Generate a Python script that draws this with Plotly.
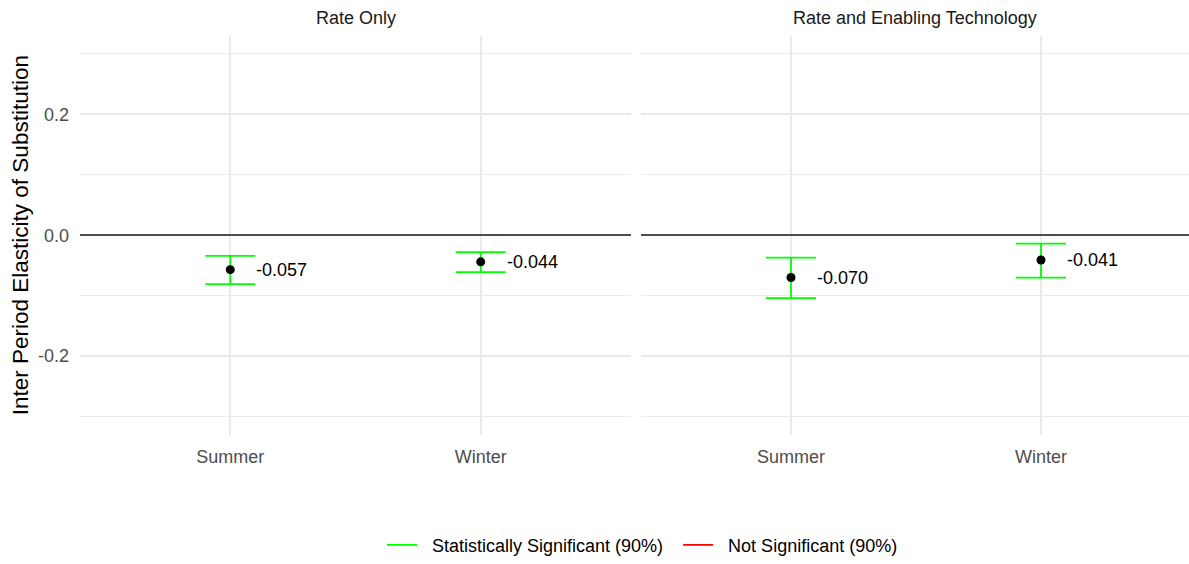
import plotly.graph_objects as go

# Seasonal elasticity estimates with 90% confidence bounds, one set per treatment group
seasons = ["Summer", "Winter"]
panels = ["Rate Only", "Rate and Enabling Technology"]

rate_only_est = [-0.057, -0.044]
rate_only_lo = [-0.081, -0.061]
rate_only_hi = [-0.034, -0.028]

rate_tech_est = [-0.070, -0.041]
rate_tech_lo = [-0.104, -0.070]
rate_tech_hi = [-0.037, -0.014]

y_ticks = [-0.2, 0.0, 0.2]
y_tick_labels = ["-0.2", "0.0", "0.2"]
y_minor = [-0.3, -0.1, 0.1, 0.3]

legend_labels = ["Statistically Significant (90%)", "Not Significant (90%)"]

W, H = 1189, 564
FONT = "Liberation Sans, Arial, sans-serif"
GREEN = "#00FF00"
RED = "#FF0000"
GRID = "#EBEBEB"
NBSP = "\u00a0"

pos = [1, 2]
fig = go.Figure()

groups = [
    (rate_only_est, rate_only_lo, rate_only_hi, "x", "y"),
    (rate_tech_est, rate_tech_lo, rate_tech_hi, "x2", "y2"),
]

for est, lo, hi, xa, ya in groups:
    fig.add_trace(go.Scatter(
        x=pos, y=est, mode="markers", xaxis=xa, yaxis=ya, showlegend=False,
        marker=dict(color="black", size=9),
        error_y=dict(
            type="data", symmetric=False,
            array=[h - e for h, e in zip(hi, est)],
            arrayminus=[e - l for e, l in zip(est, lo)],
            color=GREEN, thickness=1.8, width=25,
        ),
        hoverinfo="skip",
    ))
    for p, e in zip(pos, est):
        fig.add_annotation(
            x=p, y=e, xref=xa, yref=ya, text=f"{e:.3f}", showarrow=False,
            xanchor="left", yanchor="middle", xshift=24,
            font=dict(family=FONT, size=18, color="black"),
        )

# legend entries for significance colours
for i, (name, col) in enumerate(zip(legend_labels, [GREEN, RED])):
    pad_right = NBSP * 2 if i == 0 else ""
    fig.add_trace(go.Scatter(
        x=[None], y=[None], mode="lines", name=NBSP * 2 + name + pad_right,
        line=dict(color=col, width=1.8), xaxis="x", yaxis="y",
    ))

x_dom1 = [80 / W, 631 / W]
x_dom2 = [641 / W, 1.0]
y_dom = [(H - 437) / H, (H - 36) / H]

xcommon = dict(
    tickvals=pos, ticktext=seasons, showgrid=True, gridcolor=GRID, gridwidth=1.5,
    zeroline=False, showline=False, ticks="", ticklabelstandoff=9,
    tickfont=dict(family=FONT, size=18, color="#4D4D4D"), fixedrange=True,
)
ycommon = dict(
    range=[-0.33, 0.33], tickvals=y_ticks, ticktext=y_tick_labels,
    showgrid=True, gridcolor=GRID, gridwidth=1.5,
    minor=dict(tickvals=y_minor, showgrid=True, gridcolor=GRID, gridwidth=1.0),
    zeroline=True, zerolinecolor="#4D4D4D", zerolinewidth=1.6,
    showline=False, ticks="", domain=y_dom,
    tickfont=dict(family=FONT, size=18, color="#4D4D4D"), fixedrange=True,
)

fig.update_layout(
    width=W, height=H,
    margin=dict(l=0, r=0, t=0, b=0),
    paper_bgcolor="white", plot_bgcolor="white",
    font=dict(family=FONT, color="black"),
    xaxis=dict(domain=x_dom1, range=[0.4, 2.6], anchor="y", **xcommon),
    xaxis2=dict(domain=x_dom2, range=[0.4, 2.592], anchor="y2", **xcommon),
    yaxis=dict(anchor="x", ticklabelstandoff=10, **ycommon),
    yaxis2=dict(anchor="x2", showticklabels=False, matches="y", **ycommon),
    showlegend=True,
    legend=dict(
        orientation="h", x=0.5 + 48 / W, xanchor="center", y=(H - 548) / H, yanchor="middle",
        font=dict(family=FONT, size=18, color="black"),
        itemwidth=30, bgcolor="rgba(0,0,0,0)",
    ),
)

# facet strip titles
for title, dom in zip(panels, [x_dom1, x_dom2]):
    fig.add_annotation(
        x=(dom[0] + dom[1]) / 2, y=(H - 18) / H, xref="paper", yref="paper",
        text=title, showarrow=False, xanchor="center", yanchor="middle",
        font=dict(family=FONT, size=18, color="#1A1A1A"),
    )

# y-axis title
fig.add_annotation(
    x=20 / W, y=(y_dom[0] + y_dom[1]) / 2, xref="paper", yref="paper",
    text="Inter Period Elasticity of Substitution", showarrow=False, textangle=-90,
    xanchor="center", yanchor="middle",
    font=dict(family=FONT, size=22.5, color="black"),
)

fig.write_html("out.html")
